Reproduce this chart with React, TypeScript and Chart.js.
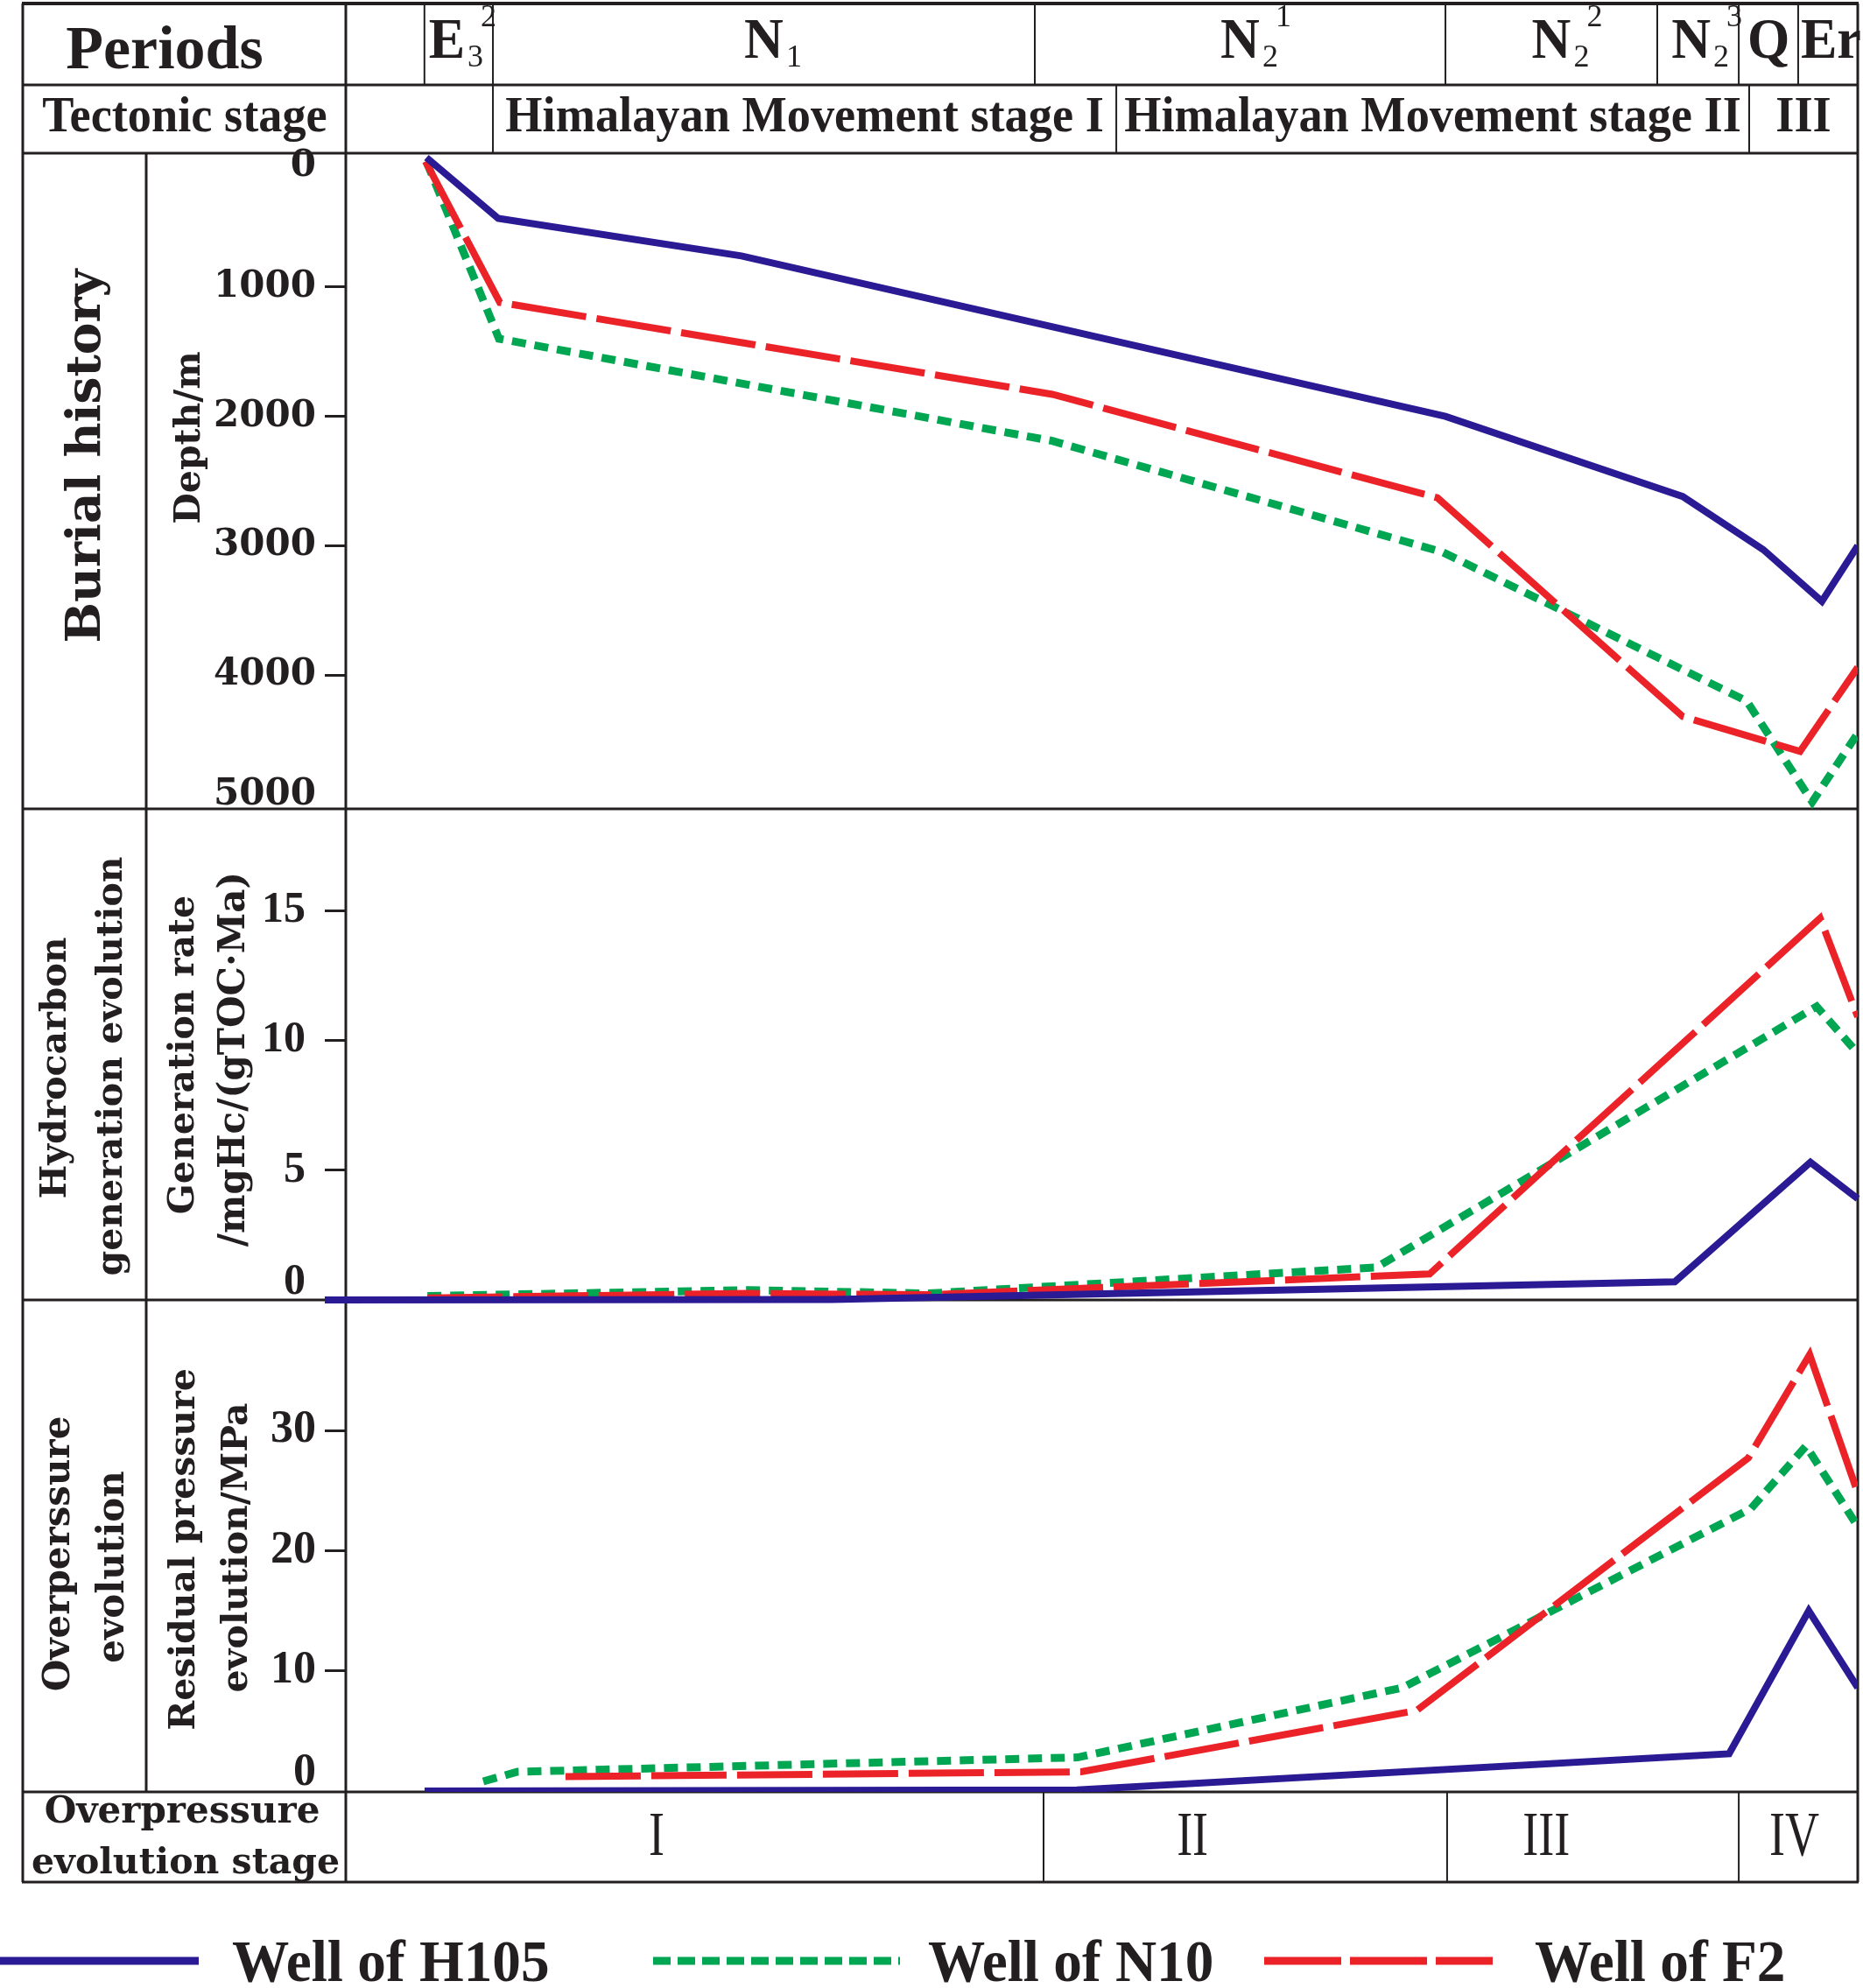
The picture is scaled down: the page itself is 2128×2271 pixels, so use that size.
import React, { useEffect, useRef } from 'react';
import { Chart, registerables } from 'chart.js';

Chart.register(...registerables);

// ---------------- DATA ----------------
// x = relative geological time (0 = left edge of plot column, 100 = present)
const periodBounds = [5.2, 9.73, 45.57, 72.73, 86.74, 92.13, 96.06, 100];
const periodBase = ['E', 'N', 'N', 'N', 'N', 'Q', 'Er'];
const periodSub = ['3', '1', '2', '2', '2', '', ''];
const periodSup = ['2', '', '1', '2', '3', '', ''];

const tectonicBounds = [9.73, 50.96, 92.82, 100];
const tectonicLabels = ['Himalayan Movement stage I', 'Himalayan Movement stage II', 'III'];

const stageBounds = [0, 46.15, 72.84, 92.13, 100];
const stageLabels = ['I', 'II', 'III', 'IV'];
const stageLabelAt = [20.56, 56.0, 79.4, 95.8];

const depthTicks = [0, 1000, 2000, 3000, 4000, 5000];
const rateTicks = [0, 5, 10, 15];
const pressureTicks = [0, 10, 20, 30];

const wellNames = ['Well of H105', 'Well of N10', 'Well of F2'];

// Burial history: depth (m)
const burialH105X = [5.33, 10.08, 26.17, 72.73, 88.42, 93.75, 97.63, 100];
const burialH105 = [0, 470, 760, 2000, 2620, 3030, 3430, 3000];
const burialN10X = [5.33, 10.13, 46.73, 72.55, 92.65, 96.99, 100];
const burialN10 = [30, 1400, 2190, 3050, 4200, 4980, 4450];
const burialF2X = [5.27, 10.19, 46.73, 72.2, 88.42, 96.18, 100];
const burialF2 = [30, 1120, 1830, 2630, 4320, 4590, 3940];

// Hydrocarbon generation rate, mgHc/(gTOC·Ma)
const rateH105X = [-1.39, 32.14, 87.9, 96.87, 100];
const rateH105 = [0, 0.02, 0.7, 5.3, 3.9];
const rateN10X = [5.4, 26.64, 38.51, 68.15, 97.28, 100];
const rateN10 = [0.15, 0.38, 0.25, 1.25, 11.3, 9.5];
const rateF2X = [5.4, 26.64, 38.51, 71.68, 97.51, 100];
const rateF2 = [0.08, 0.25, 0.2, 1.0, 14.7, 10.9];

// Residual pressure, MPa
const presH105X = [5.21, 48.35, 91.49, 96.76, 100];
const presH105 = [0, 0.1, 3.1, 15, 8.6];
const presN10X = [9.09, 11.35, 48.41, 69.89, 92.94, 96.58, 100];
const presN10 = [0.8, 1.6, 2.8, 8.6, 23.5, 28.7, 22];
const presF2X = [14.53, 48.64, 70.82, 92.76, 96.82, 100];
const presF2 = [1.2, 1.6, 6.7, 27.7, 36.3, 24.8];

// ---------------- LAYOUT / STYLE ----------------
const W = 2128;
const H = 2271;
const TABLE_L = 26;
const COL1_R = 167;
const COL2_R = 395;
const TABLE_R = 2122;
const ROW_TOP = 4;
const ROW1_B = 97;
const ROW2_B = 175;
const BURIAL_B = 924;
const HYDRO_B = 1485;
const OVER_B = 2047;
const STAGE_B = 2150;
const TICK_LEN = 24;

const INK = '#231f20';
const BLUE = '#2a1a94';
const GREEN = '#00a651';
const RED = '#ec2229';
const seriesColors = [BLUE, GREEN, RED];
const seriesDash: number[][] = [[], [16, 10], [86, 12]];
const seriesWidth = [8, 9, 8];

const TIMES = '"Liberation Serif", "Times New Roman", serif';
const WIDE = '"DejaVu Serif", serif';

const legendLineX = [
  [0, 227],
  [746, 1028],
  [1444, 1705],
];
const legendTextX = [265, 1060, 1753];
const legendLineY = 2240;
const legendTextY = 2263;

// pixel anchors for the three stacked value axes
const AREA_T = ROW2_B;
const AREA_B = OVER_B;
function linRange(v0: number, p0: number, v1: number, p1: number) {
  const k = (p0 - p1) / (v1 - v0);
  return { min: v0 - (AREA_B - p0) / k, max: v0 + (p0 - AREA_T) / k };
}
function revRange(v0: number, p0: number, v1: number, p1: number) {
  const k = (p1 - p0) / (v1 - v0);
  return { min: v0 - (p0 - AREA_T) / k, max: v0 + (AREA_B - p0) / k };
}

function pts(xs: number[], ys: number[]) {
  return xs.map((x, i) => ({ x, y: ys[i] }));
}

function widest(labels: number[], font: any) {
  const c = document.createElement('canvas').getContext('2d')!;
  c.font = `${font.weight} ${font.size}px ${font.family}`;
  return Math.max(...labels.map((v) => c.measureText(String(v)).width));
}

// labels: shiftUp / shiftDown lists move a label half a line away from its tick (as in the original)
function yAxis(
  range: { min: number; max: number },
  ticks: number[],
  hidden: number[],
  up: number[],
  down: number[],
  font: any,
  pad: number,
  weight: number,
  inner: boolean,
  reverse: boolean
) {
  const wd = widest(ticks, font);
  return {
    type: 'linear',
    position: 'left',
    weight,
    reverse,
    min: range.min,
    max: range.max,
    afterFit: (s: any) => {
      s.width = inner ? 0 : COL2_R;
    },
    afterBuildTicks: (s: any) => {
      s.ticks = ticks.map((v) => ({ value: v }));
    },
    border: { display: false },
    grid: {
      drawOnChartArea: false,
      drawTicks: true,
      tickLength: TICK_LEN,
      tickWidth: 3,
      tickColor: (c: any) => (c.tick && hidden.includes(c.tick.value) ? 'rgba(0,0,0,0)' : INK),
    },
    ticks: {
      autoSkip: false,
      maxRotation: 0,
      mirror: inner,
      crossAlign: inner ? 'far' : 'near',
      padding: inner ? -(TICK_LEN + pad + wd) : pad,
      color: INK,
      font,
      callback: (v: any) => {
        const s = String(v);
        if (up.includes(v)) return [s, ''];
        if (down.includes(v)) return ['', s];
        return s;
      },
    },
  };
}

function txt(
  ctx: CanvasRenderingContext2D,
  s: string,
  x: number,
  y: number,
  font: string,
  o: { align?: CanvasTextAlign; base?: CanvasTextBaseline; rot?: number; sx?: number; ls?: number } = {}
) {
  ctx.save();
  ctx.font = font;
  ctx.fillStyle = INK;
  ctx.textAlign = o.align ?? 'center';
  ctx.textBaseline = o.base ?? 'alphabetic';
  (ctx as any).letterSpacing = o.ls ? `${o.ls}px` : '0px';
  ctx.translate(x, y);
  if (o.rot) ctx.rotate(o.rot);
  if (o.sx) ctx.scale(o.sx, 1);
  ctx.fillText(s, 0, 0);
  ctx.restore();
}

const decor = {
  id: 'decor',
  beforeDatasetsDraw(chart: any) {
    const ctx: CanvasRenderingContext2D = chart.ctx;
    const xs = chart.scales.x;
    const X = (v: number) => xs.getPixelForValue(v);
    ctx.save();
    ctx.strokeStyle = INK;
    ctx.lineCap = 'butt';
    ctx.setLineDash([]);
    const hl = (y: number, x0: number, x1: number, w: number) => {
      ctx.lineWidth = w;
      ctx.beginPath();
      ctx.moveTo(x0, y);
      ctx.lineTo(x1, y);
      ctx.stroke();
    };
    const vl = (x: number, y0: number, y1: number, w: number) => {
      ctx.lineWidth = w;
      ctx.beginPath();
      ctx.moveTo(x, y0);
      ctx.lineTo(x, y1);
      ctx.stroke();
    };
    hl(ROW_TOP, TABLE_L - 1, TABLE_R + 1, 4);
    [ROW1_B, ROW2_B, BURIAL_B, HYDRO_B, OVER_B, STAGE_B].forEach((y) => hl(y, TABLE_L - 1, TABLE_R + 1, 3));
    vl(TABLE_L, ROW_TOP, STAGE_B, 3);
    vl(TABLE_R, ROW_TOP, STAGE_B, 3);
    vl(COL2_R, ROW_TOP, STAGE_B, 3);
    vl(COL1_R, ROW2_B, OVER_B, 3);
    periodBounds.slice(0, -1).forEach((b) => vl(X(b), ROW_TOP, ROW1_B, 2));
    tectonicBounds.slice(0, -1).forEach((b) => vl(X(b), ROW1_B, ROW2_B, 2));
    stageBounds.slice(1, -1).forEach((b) => vl(X(b), OVER_B, STAGE_B, 2));

    // header texts
    txt(ctx, 'Periods', 188, 78, `bold 70px ${TIMES}`);
    txt(ctx, 'Tectonic stage', 211, 150, `bold 56px ${TIMES}`, { sx: 0.97 });

    const baseFont = `bold 66px ${TIMES}`;
    const smallFont = `36px ${TIMES}`;
    for (let i = 0; i < periodBase.length; i++) {
      const cl = X(periodBounds[i]);
      const cr = X(periodBounds[i + 1]);
      ctx.font = baseFont;
      const bw = ctx.measureText(periodBase[i]).width * 0.94;
      ctx.font = smallFont;
      const sw = Math.max(ctx.measureText(periodSub[i]).width, ctx.measureText(periodSup[i]).width);
      const extra = periodSup[i] ? 18 + sw : periodSub[i] ? 3 + sw : 0;
      let left = (cl + cr) / 2 - bw / 2;
      if (left + bw + extra > cr + 4) left = cr + 4 - bw - extra;
      if (periodBase[i] === 'Er') left = cl + 3;
      txt(ctx, periodBase[i], left, 66, baseFont, { align: 'left', sx: 0.94 });
      if (periodSub[i]) txt(ctx, periodSub[i], left + bw + 3, 76, smallFont, { align: 'left' });
      if (periodSup[i]) txt(ctx, periodSup[i], left + bw + 18, 30, smallFont, { align: 'left' });
    }
    for (let i = 0; i < tectonicLabels.length; i++) {
      const c = (X(tectonicBounds[i]) + X(tectonicBounds[i + 1])) / 2;
      txt(ctx, tectonicLabels[i], c, 150, `bold 56px ${TIMES}`, { sx: 0.97 });
    }

    // left column labels
    const R = -Math.PI / 2;
    const mid: CanvasTextBaseline = 'middle';
    txt(ctx, 'Burial history', 100, 521, `bold 55px ${WIDE}`, { rot: R, base: mid });
    txt(ctx, 'Depth/m', 217, 500, `bold 41px ${WIDE}`, { rot: R, base: mid });
    txt(ctx, 'Hydrocarbon', 64, 1220, `bold 41px ${WIDE}`, { rot: R, base: mid });
    txt(ctx, 'generation evolution', 128, 1218, `bold 41px ${WIDE}`, { rot: R, base: mid });
    txt(ctx, 'Generation rate', 210, 1205, `bold 41px ${WIDE}`, { rot: R, base: mid });
    txt(ctx, '/mgHc/(gTOC·Ma)', 268, 1210, `bold 42px ${WIDE}`, { rot: R, base: mid });
    txt(ctx, 'Overperssure', 68, 1775, `bold 42px ${WIDE}`, { rot: R, base: mid });
    txt(ctx, 'evolution', 130, 1790, `bold 42px ${WIDE}`, { rot: R, base: mid });
    txt(ctx, 'Residual pressure', 211, 1770, `bold 41px ${WIDE}`, { rot: R, base: mid });
    txt(ctx, 'evolution/MPa', 271, 1768, `bold 41px ${WIDE}`, { rot: R, base: mid });

    // bottom stage row
    txt(ctx, 'Overpressure', 208, 2082, `bold 42px ${WIDE}`);
    txt(ctx, 'evolution stage', 212, 2140, `bold 41px ${WIDE}`);
    for (let i = 0; i < stageLabels.length; i++) {
      txt(ctx, stageLabels[i], X(stageLabelAt[i]), 2119, `72px ${TIMES}`, { sx: 0.75 });
    }
    ctx.restore();
  },
  afterDraw(chart: any) {
    const ctx: CanvasRenderingContext2D = chart.ctx;
    ctx.save();
    for (let i = 0; i < wellNames.length; i++) {
      ctx.strokeStyle = seriesColors[i];
      ctx.lineWidth = 9;
      ctx.lineCap = 'butt';
      ctx.setLineDash(i === 1 ? [20, 8] : i === 2 ? [88, 10] : []);
      ctx.beginPath();
      ctx.moveTo(legendLineX[i][0], legendLineY);
      ctx.lineTo(legendLineX[i][1], legendLineY);
      ctx.stroke();
      ctx.setLineDash([]);
      txt(ctx, wellNames[i], legendTextX[i], legendTextY, `bold 68px ${TIMES}`, { align: 'left', sx: 0.96 });
    }
    ctx.restore();
  },
};

function ds(i: number, axis: string, xs: number[], ys: number[], extra: any = {}) {
  return {
    label: wellNames[i],
    yAxisID: axis,
    data: pts(xs, ys),
    borderColor: seriesColors[i],
    backgroundColor: seriesColors[i],
    borderWidth: seriesWidth[i],
    borderDash: seriesDash[i],
    borderCapStyle: 'butt',
    borderJoinStyle: 'miter',
    pointRadius: 0,
    pointHoverRadius: 0,
    tension: 0,
    fill: false,
    ...extra,
  };
}

export default function App() {
  const ref = useRef<HTMLCanvasElement>(null);
  useEffect(() => {
    if (!ref.current) return;
    const chart = new Chart(ref.current, {
      type: 'line',
      data: {
        datasets: [
          ds(0, 'yB', burialH105X, burialH105),
          ds(0, 'yH', rateH105X, rateH105, { clip: false }),
          ds(0, 'yO', presH105X, presH105),
          ds(2, 'yB', burialF2X, burialF2),
          ds(2, 'yH', rateF2X, rateF2),
          ds(2, 'yO', presF2X, presF2),
          ds(1, 'yB', burialN10X, burialN10),
          ds(1, 'yH', rateN10X, rateN10),
          ds(1, 'yO', presN10X, presN10),
        ] as any,
      },
      options: {
        responsive: false,
        animation: false,
        devicePixelRatio: 1,
        events: [],
        layout: { padding: { left: 0, right: W - TABLE_R, top: AREA_T, bottom: H - AREA_B } },
        plugins: { legend: { display: false }, tooltip: { enabled: false }, title: { display: false } },
        scales: {
          x: { type: 'linear', min: 0, max: 100, display: false },
          yB: yAxis(revRange(0, 180, 5000, 919), depthTicks, [0, 5000], [5000], [0],
            { family: WIDE, size: 42, weight: 'bold', lineHeight: 0.5 }, 10, 10, false, true),
          yH: yAxis(linRange(0, 1485, 15, 1040), rateTicks, [0], [0], [],
            { family: TIMES, size: 50, weight: 'bold', lineHeight: 0.8 }, 22, 5, true, false),
          yO: yAxis(linRange(0, 2046, 30, 1634), pressureTicks, [0], [0], [],
            { family: TIMES, size: 52, weight: 'bold', lineHeight: 0.8 }, 10, 1, true, false),
        } as any,
      },
      plugins: [decor as any],
    });
    return () => chart.destroy();
  }, []);
  return (
    <div style={{ position: 'absolute', left: 0, top: 0, width: W, height: H, background: '#fff', overflow: 'hidden' }}>
      <canvas ref={ref} width={W} height={H} style={{ display: 'block', width: W, height: H }} />
    </div>
  );
}
